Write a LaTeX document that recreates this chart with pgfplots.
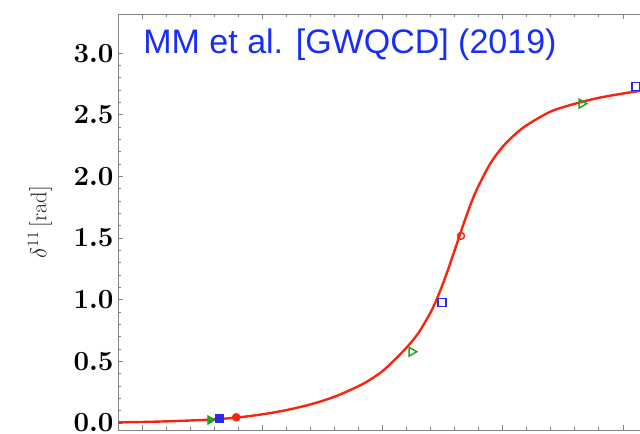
\documentclass[border=0pt]{standalone}
\usepackage{fontspec}
\usepackage{pgfplots}
\pgfplotsset{compat=1.18}
\newfontfamily\titlefont{Liberation Sans}
\definecolor{curvered}{RGB}{250,35,15}
\definecolor{mkgreen}{RGB}{30,165,30}
\definecolor{mkblue}{RGB}{40,40,250}
\definecolor{titleblue}{RGB}{25,45,250}
\definecolor{frame}{RGB}{130,130,130}
\begin{document}
\begin{tikzpicture}
\begin{axis}[
  at={(0,0)}, anchor=south west,
  scale only axis, width=410pt, height=311.8pt,
  xmin=1.9015, xmax=4.175,
  ymin=-0.057, ymax=3.315,
  xtick={2,2.5,3,3.5,4}, minor x tick num=4, xticklabels={},
  ytick={0,0.5,1,1.5,2,2.5,3}, minor y tick num=4,
  yticklabel style={/pgf/number format/.cd, fixed, fixed zerofill, precision=1},
  ticklabel style={font=\boldmath\fontsize{19.5}{22}\selectfont},
  tick align=inside, major tick length=3.75pt, minor tick length=1.9pt,
  axis line style={frame, line width=0.6pt},
  tick style={frame, line width=0.5pt},
  every axis y label/.style={at={(axis description cs:0,0.5)}, xshift=-58.7pt, rotate=90, anchor=center},
  ylabel={\color{black!85}\fontsize{17}{20}\selectfont$\delta^{11}\,[\mathrm{rad}]$},
]
% fitted phase shift
\addplot[curvered, line width=1.8pt, smooth] coordinates {
  (1.9015,0.005) (2.00,0.008) (2.10,0.013) (2.20,0.020) (2.30,0.029)
  (2.40,0.045) (2.50,0.070) (2.60,0.104) (2.70,0.150) (2.80,0.212)
  (2.90,0.298) (2.95,0.352) (3.00,0.420) (3.05,0.510) (3.10,0.610)
  (3.15,0.730) (3.20,0.895) (3.225,1.000) (3.25,1.120) (3.275,1.255)
  (3.30,1.398) (3.33,1.571) (3.35,1.684) (3.375,1.814) (3.40,1.924)
  (3.45,2.108) (3.50,2.240) (3.55,2.338) (3.60,2.415) (3.70,2.526)
  (3.80,2.589) (3.90,2.637) (4.00,2.672) (4.10,2.702) (4.175,2.724)
};
% lattice levels
\addplot[only marks, mark=triangle*, mkgreen, mark size=4pt, mark options={rotate=-90}] coordinates {(2.284,0.024)};
\addplot[only marks, mark=square*, mkblue, mark size=3pt] coordinates {(2.321,0.038)};
\addplot[only marks, mark=*, curvered, mark size=3pt] coordinates {(2.392,0.046)};
\addplot[only marks, mark=triangle, mkgreen, mark size=3.8pt, mark options={rotate=-90, line width=1.1pt, fill=white}] coordinates {(3.122,0.578) (3.829,2.59)};
\addplot[only marks, mark=square, mkblue, mark size=3pt, mark options={line width=1.1pt, fill=white}] coordinates {(3.247,0.976) (4.054,2.73)};
\addplot[only marks, mark=o, curvered, mark size=2.6pt, mark options={line width=1.1pt, fill=white}] coordinates {(3.327,1.517)};
\node[anchor=base west, inner sep=0pt, text=titleblue, font=\titlefont\fontsize{25.5}{28}\selectfont]
  at (axis cs:2.005,3.0) {MM et al. [GWQCD] (2019)};
\end{axis}
\pgfresetboundingbox
\path[use as bounding box] (-88.7pt,-2.25pt) rectangle (391.3pt,322.5pt);
\end{tikzpicture}
\end{document}
